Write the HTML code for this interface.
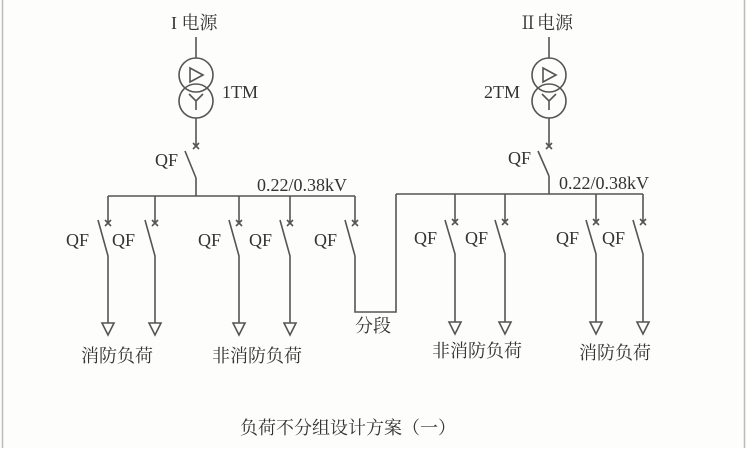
<!DOCTYPE html>
<html><head><meta charset="utf-8"><style>
html,body{margin:0;padding:0;background:#fff;}
svg text{font-family:"Liberation Serif","Noto Serif CJK SC",serif;fill:#333;}
</style></head><body>
<svg width="747" height="448" viewBox="0 0 747 448" xmlns="http://www.w3.org/2000/svg">
<rect x="0" y="0" width="747" height="448" fill="#fdfdfc"/>
<line x1="2.5" y1="0" x2="2.5" y2="448" stroke="#bbb" stroke-width="1.5"/>
<line x1="744.5" y1="0" x2="744.5" y2="448" stroke="#bbb" stroke-width="1.5"/>
<g stroke="#555" stroke-width="1.6" fill="none">
<line x1="196" y1="37" x2="196" y2="58"/>
<circle cx="196" cy="75" r="17"/>
<circle cx="196" cy="101" r="17"/>
<path d="M190 68 L203 75 L190 82 Z"/>
<path d="M189 94 L196 101 L203 94 M196 101 L196 110"/>
<line x1="196" y1="118" x2="196" y2="146"/>
<path d="M193 143 L199 149 M199 143 L193 149"/>
<line x1="185" y1="151" x2="196" y2="178"/>
<line x1="196" y1="178" x2="196" y2="196"/>
<line x1="108" y1="196" x2="355" y2="196"/>
<line x1="549" y1="37" x2="549" y2="58"/>
<circle cx="549" cy="75" r="17"/>
<circle cx="549" cy="101" r="17"/>
<path d="M543 68 L556 75 L543 82 Z"/>
<path d="M542 94 L549 101 L556 94 M549 101 L549 110"/>
<line x1="549" y1="118" x2="549" y2="146"/>
<path d="M546 143 L552 149 M552 143 L546 149"/>
<line x1="538" y1="151" x2="549" y2="176"/>
<line x1="549" y1="176" x2="549" y2="194"/>
<line x1="396" y1="194" x2="643" y2="194"/>
<path d="M355 256 L355 312 L396 312 L396 194"/>
</g>
<g stroke="#555" stroke-width="1.6" fill="none">
<path d="M108 196 V223 M105 220 L111 226 M111 220 L105 226 M98 220 L108 256 V323 M102 323 H114 L108 335 Z"/>
<path d="M155 196 V223 M152 220 L158 226 M158 220 L152 226 M145 220 L155 256 V323 M149 323 H161 L155 335 Z"/>
<path d="M239 196 V223 M236 220 L242 226 M242 220 L236 226 M229 220 L239 256 V323 M233 323 H245 L239 335 Z"/>
<path d="M290 196 V223 M287 220 L293 226 M293 220 L287 226 M280 220 L290 256 V323 M284 323 H296 L290 335 Z"/>
<path d="M355 196 V223 M352 220 L358 226 M358 220 L352 226 M345 220 L355 256"/>
<path d="M455 194 V222 M452 219 L458 225 M458 219 L452 225 M445 220 L455 254 V322 M449 322 H461 L455 334 Z"/>
<path d="M505 194 V222 M502 219 L508 225 M508 219 L502 225 M495 220 L505 254 V322 M499 322 H511 L505 334 Z"/>
<path d="M596 194 V222 M593 219 L599 225 M599 219 L593 225 M586 220 L596 254 V322 M590 322 H602 L596 334 Z"/>
<path d="M643 194 V222 M640 219 L646 225 M646 219 L640 225 M633 220 L643 254 V322 M637 322 H649 L643 334 Z"/>
</g>
<g font-size="18">
<text x="171" y="29">I 电源</text>
<text x="519" y="29">Ⅱ电源</text>
<text x="222" y="98">1TM</text>
<text x="484" y="98">2TM</text>
<text x="155" y="166">QF</text>
<text x="508" y="164">QF</text>
<text x="257" y="191">0.22/0.38kV</text>
<text x="559" y="189">0.22/0.38kV</text>
<text x="66" y="246">QF</text>
<text x="112" y="246">QF</text>
<text x="198" y="246">QF</text>
<text x="249" y="246">QF</text>
<text x="314" y="246">QF</text>
<text x="414" y="244">QF</text>
<text x="465" y="244">QF</text>
<text x="556" y="244">QF</text>
<text x="602" y="244">QF</text>
<text x="81" y="362">消防负荷</text>
<text x="212" y="362">非消防负荷</text>
<text x="355" y="332">分段</text>
<text x="432" y="357">非消防负荷</text>
<text x="579" y="359">消防负荷</text>
<text x="240" y="434">负荷不分组设计方案（一）</text>
</g>
</svg>
</body></html>
